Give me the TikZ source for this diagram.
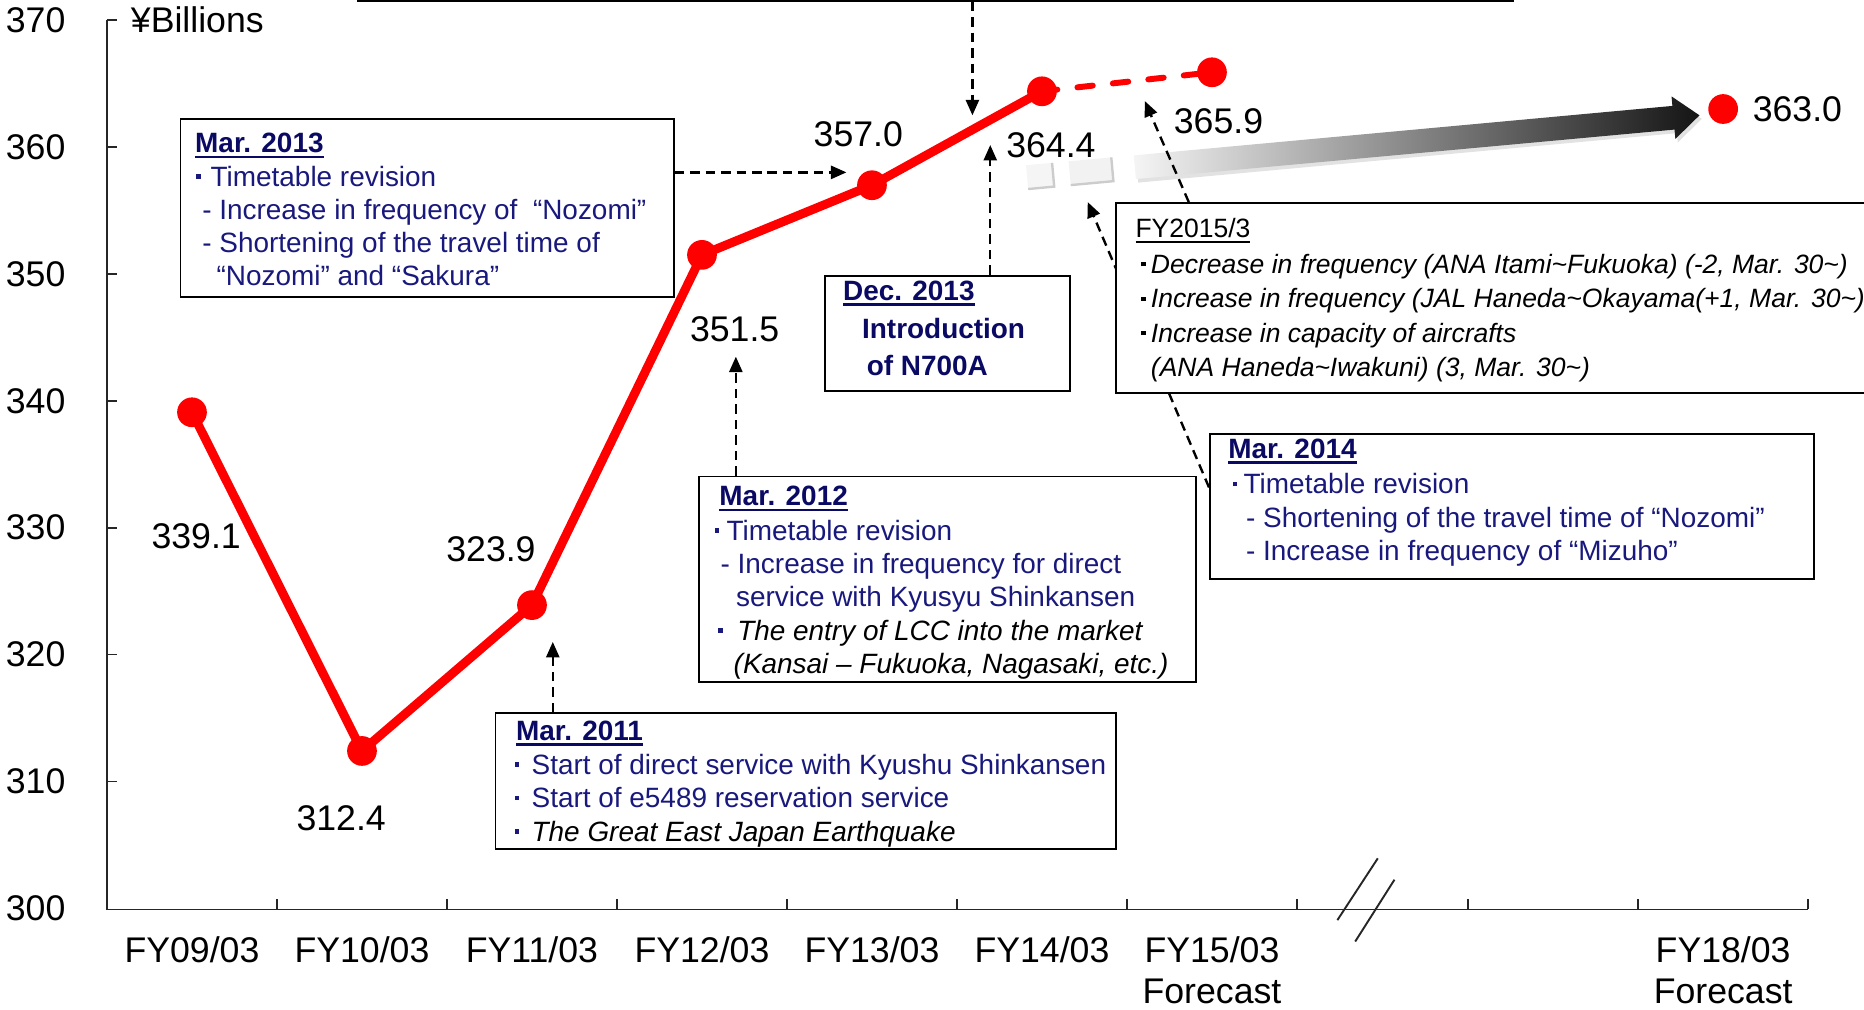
\documentclass[tikz,border=0pt]{standalone}
\usepackage{fontspec}
\setmainfont{Liberation Sans}
\usetikzlibrary{arrows.meta,calc}
\definecolor{hd}{RGB}{10,10,100}
\definecolor{bd}{RGB}{25,25,125}
\newcommand\sqb{\raisebox{0.27em}{\rule{0.16em}{0.16em}}}
\newcommand\bl[1]{\makebox[#1][l]{\sqb}}
\newcommand\ulx[1]{\setbox0\hbox{#1}\rlap{\rule[-0.2em]{\wd0}{0.085em}}\box0}
\begin{document}
\begin{tikzpicture}[x=1pt,y=-1pt,
  axl/.style={font=\fontsize{30}{36}\selectfont, inner sep=0pt},
  bt/.style={font=\fontsize{23.5}{28}\selectfont, inner sep=0pt, anchor=base west, text=bd},
  bth/.style={font=\fontsize{23.5}{28}\selectfont\bfseries, inner sep=0pt, anchor=base west, text=hd},
  bti/.style={font=\fontsize{23.5}{28}\selectfont\itshape, inner sep=0pt, anchor=base west, text=black},
  fyt/.style={font=\fontsize{22.3}{29}\selectfont\itshape, inner sep=0pt, anchor=base west, text=black},
  boxframe/.style={draw=black, line width=1.6pt, fill=white, inner sep=0pt, anchor=north west},
  darr/.style={draw=black, line width=2pt, dash pattern=on 8pt off 5pt, -{Triangle[length=13pt,width=11pt]}},
  rdot/.style={circle, fill=red, minimum size=25pt, inner sep=0pt},
  axisline/.style={line width=1.4pt, draw=black!85},
]
\useasboundingbox (0,0) rectangle (1568,849);
\clip (0,0) rectangle (1568,849);

% axes
\draw[axisline] (90,17) -- (90,765) -- (1521,765);
\foreach \yy in {17,123.7,230.5,337.2,443.9,550.6,657.3}
  \draw[axisline] (90,\yy) -- (98,\yy);
\foreach \xx in {233,376,519,662,805,948,1091,1235,1378,1521}
  \draw[axisline] (\xx,765) -- (\xx,756);
\draw[line width=1.6pt, black!85] (1125,774) -- (1159,722);
\draw[line width=1.6pt, black!85] (1140,792) -- (1173,740);

% y labels
\node[axl] (y370) at (30,17) {370};
\node[axl] (y360) at (30,123.7) {360};
\node[axl] (y350) at (30,230.5) {350};
\node[axl] (y340) at (30,337.2) {340};
\node[axl] (y330) at (30,443.9) {330};
\node[axl] (y320) at (30,550.6) {320};
\node[axl] (y310) at (30,657.3) {310};
\node[axl] (y300) at (30,764) {300};
\node[axl] (unit) at (166,17) {¥Billions};

% x labels
\node[axl, anchor=base] (x09) at (161.5,809.7) {FY09/03};
\node[axl, anchor=base] (x10) at (304.5,809.7) {FY10/03};
\node[axl, anchor=base] (x11) at (447.5,809.7) {FY11/03};
\node[axl, anchor=base] (x12) at (590.5,809.7) {FY12/03};
\node[axl, anchor=base] (x13) at (733.5,809.7) {FY13/03};
\node[axl, anchor=base] (x14) at (876.5,809.7) {FY14/03};
\node[axl, anchor=base] (x15) at (1019.5,809.7) {FY15/03};
\node[axl, anchor=base] (f15) at (1019.5,844) {Forecast};
\node[axl, anchor=base] (x18) at (1449.5,809.7) {FY18/03};
\node[axl, anchor=base] (f18) at (1449.5,844) {Forecast};

% gradient arrow
\fill[gray!45, opacity=0.5, shift={(2,3)}] (953.7,130.7) -- (1406.8,89.1) -- (1406.1,81.1) -- (1429.6,97.0) -- (1409.3,116.9) -- (1408.6,109.0) -- (955.5,150.6) -- cycle;
\shade[left color=gray!8, middle color=black!38, right color=black!92] (953.7,130.7) -- (1406.8,89.1) -- (1406.1,81.1) -- (1429.6,97.0) -- (1409.3,116.9) -- (1408.6,109.0) -- (955.5,150.6) -- cycle;
\fill[gray!8] (863.1,139.0) -- (885.0,137.0) -- (886.8,157.0) -- (864.9,159.0) -- cycle;
\draw[gray!40, line width=2pt] (885.0,137.0) -- (886.8,157.0) -- (864.9,159.0);
\fill[gray!10] (898.9,135.7) -- (934.8,132.4) -- (936.6,152.4) -- (900.7,155.7) -- cycle;
\draw[gray!40, line width=2pt] (934.8,132.4) -- (936.6,152.4) -- (900.7,155.7);

% data
\coordinate (p09) at (161.5,346.8);
\coordinate (p10) at (304.5,631.7);
\coordinate (p11) at (447.5,509);
\coordinate (p12) at (590.5,214.4);
\coordinate (p13) at (733.5,155.8);
\coordinate (p14) at (876.5,76.8);
\coordinate (p15) at (1019.5,60.8);
\coordinate (p18) at (1449.5,91.7);
\draw[red, line width=7.5pt, line join=round] (p09) -- (p10) -- (p11) -- (p12) -- (p13) -- (p14);
\draw[red, line width=5pt, line cap=round, dash pattern=on 13pt off 17pt] (p14) -- (p15);
\foreach \p in {09,10,11,12,13,14,15,18}
  \node[rdot] (d\p) at (p\p) {};

\node[axl] (v09) at (165,451) {339.1};
\node[axl] (v10) at (287,688) {312.4};
\node[axl] (v11) at (413,462) {323.9};
\node[axl] (v12) at (618,277) {351.5};
\node[axl] (v13) at (722,113) {357.0};
\node[axl] (v14) at (884,122) {364.4};
\node[axl] (v15) at (1025,102) {365.9};
\node[axl] (v18) at (1512,92) {363.0};

% boxes and arrows
\node[boxframe, anchor=south west, minimum width=972pt, minimum height=60pt] (btop) at (300,1.5) {};
\coordinate (e1) at (818,97);
\draw[darr] (btop.south -| e1) -- (e1);

\node[boxframe, minimum width=415pt, minimum height=150pt] (b13) at (151,99) {};
\coordinate (e2) at (712,145);
\draw[darr] (b13.east |- e2) -- (e2);

\node[boxframe, minimum width=206pt, minimum height=97pt] (bD) at (693,231) {};
\coordinate (e3) at (833,122);
\draw[darr] (bD.north -| e3) -- (e3);

\node[boxframe, minimum width=418pt, minimum height=173pt] (b12) at (587,400) {};
\coordinate (e6) at (619,300);
\draw[darr] (b12.north -| e6) -- (e6);

\node[boxframe, minimum width=522pt, minimum height=114pt] (b11) at (416,599) {};
\coordinate (e7) at (465,540);
\draw[darr] (b11.north -| e7) -- (e7);

\node[boxframe, minimum width=508pt, minimum height=122pt] (b14) at (1017,364) {};
\coordinate (s5) at (1017,410);
\coordinate (e5) at (915,170);
\draw[darr] (b14.west |- s5) -- (e5);

\node[boxframe, minimum width=640pt, minimum height=160pt] (bF) at (938,170) {};
\coordinate (s4) at (1000,170);
\coordinate (e4) at (963,85);
\draw[darr] (bF.north -| s4) -- (e4);

% Mar 2013 text
\node[bth] (t13a) at (164,128.5) {\ulx{Mar. 2013}};
\node[bt] (t13b) at (165,156.5) {\bl{12pt}Timetable revision};
\node[bt] (t13c) at (170,184.5) {- Increase in frequency of \ “Nozomi”};
\node[bt] (t13d) at (170,212.5) {- Shortening of the travel time of};
\node[bt] (t13e) at (182,240.5) {“Nozomi” and “Sakura”};

% Dec 2013 text
\node[bth] (tDa) at (709,252.5) {\ulx{Dec. 2013}};
\node[bth] (tDb) at (725,284.5) {Introduction};
\node[bth] (tDc) at (729,315.5) {of N700A};

% Mar 2012 text
\node[bth] (t12a) at (605,425.5) {\ulx{Mar. 2012}};
\node[bt] (t12b) at (601,454.5) {\bl{10pt}Timetable revision};
\node[bt] (t12c) at (606,482.5) {- Increase in frequency for direct};
\node[bt] (t12d) at (619,510.5) {service with Kyusyu Shinkansen};
\node[bt] (t12e) at (604,538.5) {\bl{16pt}\itshape\color{black}The entry of LCC into the market};
\node[bti] (t12f) at (617,566.5) {(Kansai – Fukuoka, Nagasaki, etc.)};

% Mar 2011 text
\node[bth] (t11a) at (434,622.5) {\ulx{Mar. 2011}};
\node[bt] (t11b) at (433,651.5) {\bl{14pt}Start of direct service with Kyushu Shinkansen};
\node[bt] (t11c) at (433,679.5) {\bl{14pt}Start of e5489 reservation service};
\node[bt] (t11d) at (433,707.5) {\bl{14pt}\itshape\color{black}The Great East Japan Earthquake};

% FY2015/3 text
\node[fyt, font=\fontsize{22.3}{29}\selectfont] (tFa) at (955,200) {\ulx{FY2015/3}};
\node[fyt] (tFb) at (960,230) {\bl{8pt}Decrease in frequency (ANA Itami\textasciitilde{}Fukuoka) (-2, Mar. 30\textasciitilde{})};
\node[fyt] (tFc) at (960,259) {\bl{8pt}Increase in frequency (JAL Haneda\textasciitilde{}Okayama(+1, Mar. 30\textasciitilde{})};
\node[fyt] (tFd) at (960,288) {\bl{8pt}Increase in capacity of aircrafts};
\node[fyt] (tFe) at (968,317) {(ANA Haneda\textasciitilde{}Iwakuni) (3, Mar. 30\textasciitilde{})};

% Mar 2014 text
\node[bth] (t14a) at (1033,385.5) {\ulx{Mar. 2014}};
\node[bt] (t14b) at (1037,415.5) {\bl{9pt}Timetable revision};
\node[bt] (t14c) at (1048,443.5) {- Shortening of the travel time of “Nozomi”};
\node[bt] (t14d) at (1048,471.5) {- Increase in frequency of “Mizuho”};
\end{tikzpicture}
\end{document}
